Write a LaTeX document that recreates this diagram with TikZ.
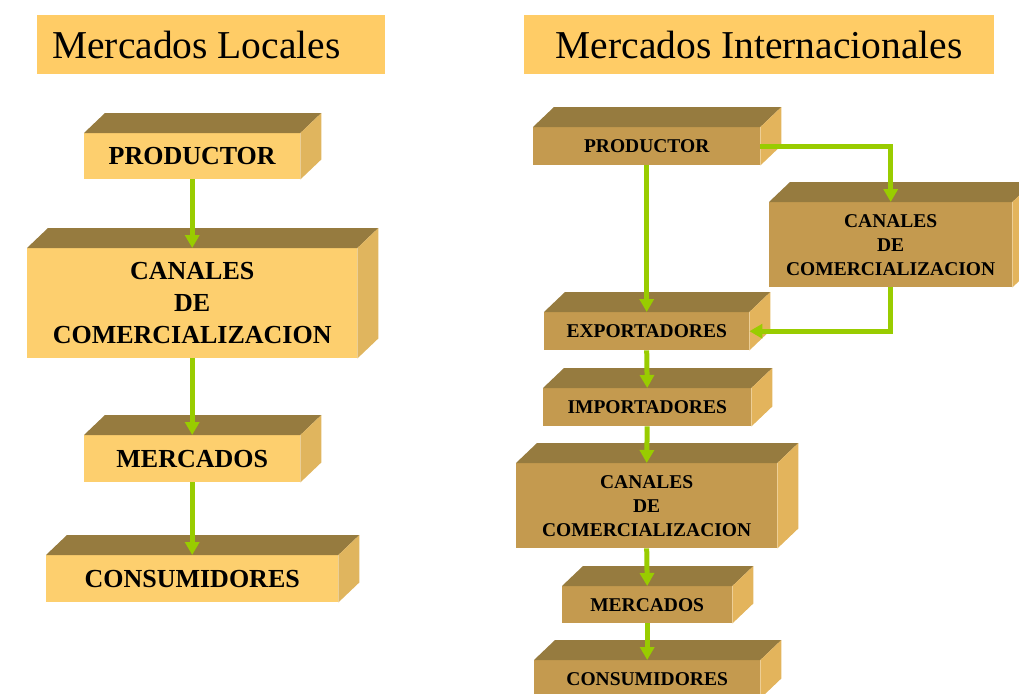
\documentclass[tikz,border=0pt]{standalone}
\usepackage{fontspec}
\setmainfont{Liberation Serif}
\usetikzlibrary{arrows.meta}
\definecolor{titlec}{HTML}{FFCC66}
\definecolor{lfront}{HTML}{FDCF6E}
\definecolor{lside}{HTML}{E0B55E}
\definecolor{topc}{HTML}{967B3F}
\definecolor{rfront}{HTML}{C49A4F}
\definecolor{rside}{HTML}{E3B45C}
\definecolor{arrowc}{HTML}{99CC00}
\newcommand\mkcube[8]{%
  \node[#6, minimum width=#4pt, minimum height=#5pt, anchor=north west] (#1) at (#2,#3) {#7};
  \fill[topc] (#1.north west) -- ([shift={(21pt,20pt)}]#1.north west) -- ([shift={(21pt,20pt)}]#1.north east) -- (#1.north east) -- cycle;
  \fill[#8] (#1.north east) -- ([shift={(21pt,20pt)}]#1.north east) -- ([shift={(21pt,20pt)}]#1.south east) -- (#1.south east) -- cycle;
}
\begin{document}
\begin{tikzpicture}[x=1pt,y=-1pt,
  titlebox/.style={fill=titlec, inner sep=0pt, font=\fontsize{39.5}{44}\selectfont},
  lbox/.style={fill=lfront, inner sep=0pt, align=center, font=\fontsize{26}{32}\selectfont\bfseries},
  rbox/.style={fill=rfront, inner sep=0pt, align=center, font=\fontsize{19.5}{24}\selectfont\bfseries},
  arr/.style={draw=arrowc, line width=5pt, -{Triangle[width=14pt,length=13pt]}}]
\useasboundingbox (0,0) rectangle (1019,693);
\clip (0,0) rectangle (1019,693);
% titles
\node[titlebox, minimum width=348pt, minimum height=59pt, anchor=north west] (t1) at (37,15) {\makebox[318pt][l]{Mercados Locales}};
\node[titlebox, minimum width=470pt, minimum height=59pt, anchor=north west] (t2) at (524,15) {Mercados Internacionales};
% left column
\mkcube{lp}{84}{133}{216}{46}{lbox}{PRODUCTOR}{lside}
\mkcube{lc}{27}{248}{330}{110}{lbox}{CANALES\\DE\\COMERCIALIZACION}{lside}
\mkcube{lm}{84}{435}{216}{47}{lbox}{MERCADOS}{lside}
\mkcube{lcons}{46}{555}{292}{47}{lbox}{CONSUMIDORES}{lside}
% right column
\mkcube{rp}{533}{127}{227}{38}{rbox}{PRODUCTOR}{rside}
\mkcube{rc}{769}{202}{243}{85}{rbox}{CANALES\\DE\\COMERCIALIZACION}{rside}
\mkcube{re}{544}{312}{205}{38}{rbox}{EXPORTADORES}{rside}
\mkcube{ri}{543}{388}{208}{38}{rbox}{IMPORTADORES}{rside}
\mkcube{rc2}{516}{463}{261}{85}{rbox}{CANALES\\DE\\COMERCIALIZACION}{rside}
\mkcube{rm}{562}{586}{170}{37}{rbox}{MERCADOS}{rside}
\mkcube{rcons}{534}{660}{226}{38}{rbox}{CONSUMIDORES}{rside}
% arrows left
\draw[arr] (lp.south) -- (lc.north);
\draw[arr] (lc.south) -- (lm.north);
\draw[arr] (lm.south) -- (lcons.north);
% arrows right
\draw[arr] (rp.south) -- (re.north);
\draw[arr] (rp.east) -| (rc.north);
\draw[arr] (rc.south) |- (re.east);
\draw[arr] (re.south) -- (ri.north);
\draw[arr] (ri.south) -- (rc2.north);
\draw[arr] (rc2.south) -- (rm.north);
\draw[arr] (rm.south) -- (rcons.north);
\end{tikzpicture}
\end{document}
